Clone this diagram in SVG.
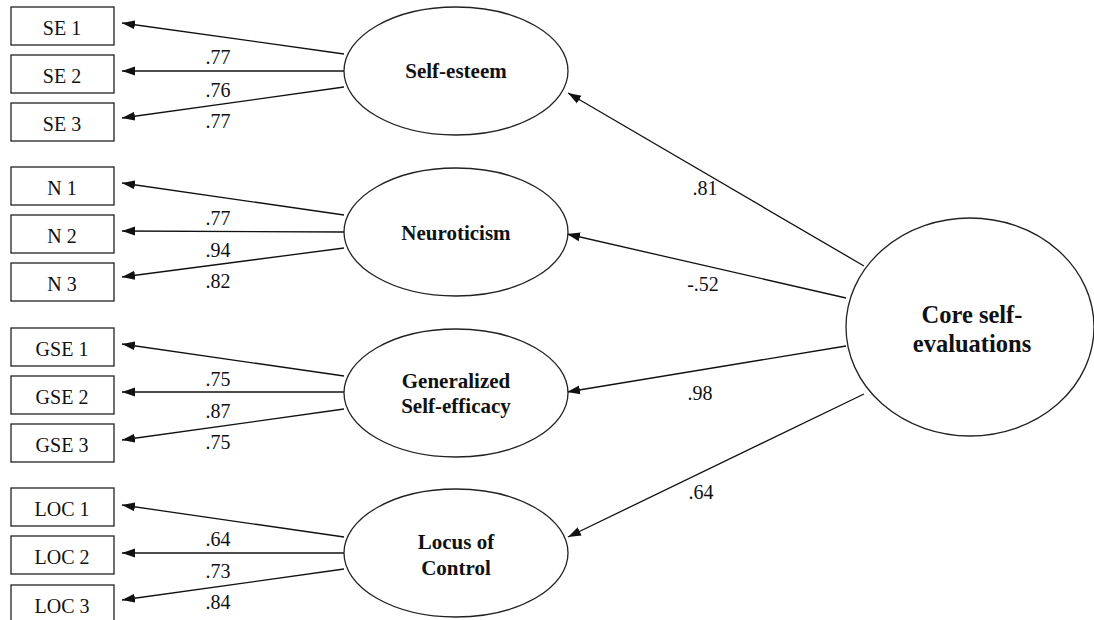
<svg xmlns="http://www.w3.org/2000/svg" width="1094" height="620" viewBox="0 0 1094 620">
<defs>
<marker id="ah" markerUnits="userSpaceOnUse" markerWidth="14" markerHeight="10" refX="13" refY="5" orient="auto">
<path d="M0,0.5 L13,5 L0,9.5 z" fill="#111"/>
</marker>
<style>
.box{fill:#fff;stroke:#222;stroke-width:1.3}
.ell{fill:#fff;stroke:#222;stroke-width:1.3}
text{font-family:'Liberation Serif','DejaVu Serif','Noto Serif',serif;fill:#111;text-anchor:middle}
.bt{font-size:20px}
.lt{font-size:21px;font-weight:bold}
.ct{font-size:24.5px;font-weight:bold}
.cl{font-size:20px}
.ln{stroke:#111;stroke-width:1.3;fill:none;marker-end:url(#ah)}
</style>
</defs>
<rect width="1094" height="620" fill="#fff"/>

<g id="connectors">
<line class="ln" x1="344" y1="54" x2="122" y2="23"/>
<line class="ln" x1="344" y1="71" x2="122" y2="71"/>
<line class="ln" x1="344" y1="87" x2="122" y2="118"/>
<line class="ln" x1="344" y1="215" x2="122" y2="183"/>
<line class="ln" x1="344" y1="232" x2="122" y2="231"/>
<line class="ln" x1="344" y1="248" x2="122" y2="277"/>
<line class="ln" x1="344" y1="376" x2="122" y2="344"/>
<line class="ln" x1="344" y1="392" x2="122" y2="392"/>
<line class="ln" x1="344" y1="409" x2="122" y2="440"/>
<line class="ln" x1="344" y1="537" x2="122" y2="505"/>
<line class="ln" x1="344" y1="553" x2="122" y2="553"/>
<line class="ln" x1="344" y1="569" x2="122" y2="600"/>
<line class="ln" x1="864" y1="266" x2="568" y2="93"/>
<line class="ln" x1="846" y1="298" x2="567" y2="234"/>
<line class="ln" x1="846" y1="346" x2="567" y2="392"/>
<line class="ln" x1="864" y1="394" x2="568" y2="537"/>
<text class="cl" x="218" y="64">.77</text>
<text class="cl" x="218" y="97">.76</text>
<text class="cl" x="218" y="128">.77</text>
<text class="cl" x="218" y="225">.77</text>
<text class="cl" x="218" y="257">.94</text>
<text class="cl" x="218" y="288">.82</text>
<text class="cl" x="218" y="386">.75</text>
<text class="cl" x="218" y="418">.87</text>
<text class="cl" x="218" y="449">.75</text>
<text class="cl" x="218" y="546">.64</text>
<text class="cl" x="218" y="578">.73</text>
<text class="cl" x="218" y="609">.84</text>
<text class="cl" x="705" y="195">.81</text>
<text class="cl" x="703" y="291">-.52</text>
<text class="cl" x="700" y="400">.98</text>
<text class="cl" x="701" y="499">.64</text>
</g>

<g id="SE1"><rect class="box" x="11" y="7" width="103" height="38"/><text class="bt" x="62" y="34.5">SE 1</text></g>
<g id="SE2"><rect class="box" x="11" y="55" width="103" height="38"/><text class="bt" x="62" y="82.5">SE 2</text></g>
<g id="SE3"><rect class="box" x="11" y="103" width="103" height="38"/><text class="bt" x="62" y="130.5">SE 3</text></g>
<g id="N1"><rect class="box" x="11" y="167" width="103" height="38"/><text class="bt" x="62" y="194.5">N 1</text></g>
<g id="N2"><rect class="box" x="11" y="215" width="103" height="38"/><text class="bt" x="62" y="242.5">N 2</text></g>
<g id="N3"><rect class="box" x="11" y="263" width="103" height="38"/><text class="bt" x="62" y="290.5">N 3</text></g>
<g id="GSE1"><rect class="box" x="11" y="328" width="103" height="38"/><text class="bt" x="62" y="355.5">GSE 1</text></g>
<g id="GSE2"><rect class="box" x="11" y="376" width="103" height="38"/><text class="bt" x="62" y="403.5">GSE 2</text></g>
<g id="GSE3"><rect class="box" x="11" y="424" width="103" height="38"/><text class="bt" x="62" y="451.5">GSE 3</text></g>
<g id="LOC1"><rect class="box" x="11" y="488" width="103" height="38"/><text class="bt" x="62" y="515.5">LOC 1</text></g>
<g id="LOC2"><rect class="box" x="11" y="536" width="103" height="38"/><text class="bt" x="62" y="563.5">LOC 2</text></g>
<g id="LOC3"><rect class="box" x="11" y="585" width="103" height="38"/><text class="bt" x="62" y="612.5">LOC 3</text></g>

<g id="selfesteem"><ellipse class="ell" cx="456" cy="71" rx="112" ry="64"/><text class="lt" x="456" y="78">Self-esteem</text></g>
<g id="neuroticism"><ellipse class="ell" cx="456" cy="232" rx="112" ry="64"/><text class="lt" x="456" y="240">Neuroticism</text></g>
<g id="gse"><ellipse class="ell" cx="456" cy="393" rx="112" ry="64"/><text class="lt" x="456" y="388">Generalized</text><text class="lt" x="456" y="413">Self-efficacy</text></g>
<g id="loc"><ellipse class="ell" cx="456" cy="553" rx="112" ry="64"/><text class="lt" x="456" y="549">Locus of</text><text class="lt" x="456" y="575">Control</text></g>
<g id="core"><ellipse class="ell" cx="970" cy="327" rx="124" ry="109"/><text class="ct" x="972" y="323">Core self-</text><text class="ct" x="972" y="352">evaluations</text></g>
</svg>
